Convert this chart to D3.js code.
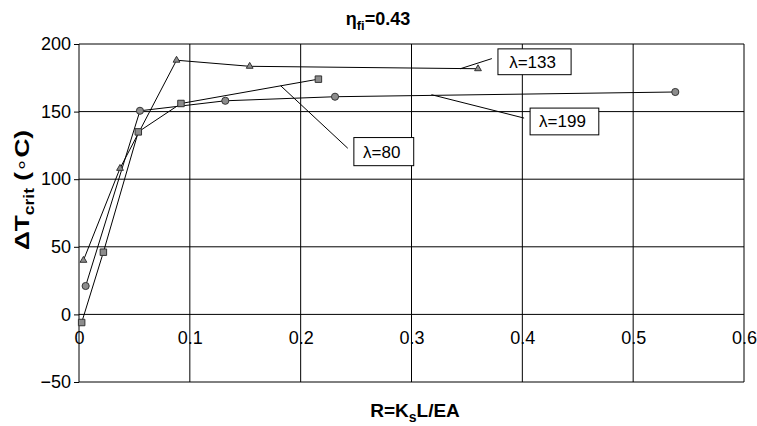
<!DOCTYPE html>
<html>
<head>
<meta charset="utf-8">
<script src="https://d3js.org/d3.v7.min.js"></script>
<style>
  body { margin: 0; background: #fff; }
  svg { font-family: "Liberation Sans", Arial, sans-serif; }
  .grid line { stroke: #000; stroke-width: 1; }
  .axis text { font-size: 18px; fill: #000; }
  .axis path, .axis line { stroke: #000; }
  .series { fill: none; stroke: #000; stroke-width: 1; }
  .mark { fill: #8c8c8c; stroke: #333; stroke-width: 1; }
  .callout rect { fill: #fff; stroke: #000; stroke-width: 1; }
  .callout line { stroke: #000; stroke-width: 1; }
  .callout text { font-size: 17px; }
</style>
</head>
<body>
<div id="chart"></div>
<script>
// values
var xTicks = [0, 0.1, 0.2, 0.3, 0.4, 0.5, 0.6];
var yTicks = [-50, 0, 50, 100, 150, 200];

// lambda = 133 (triangles)
var r133 = [0.004, 0.037, 0.088, 0.154, 0.360];
var t133 = [40, 108, 188, 183.5, 181.7];
// lambda = 199 (circles)
var r199 = [0.006, 0.055, 0.132, 0.231, 0.538];
var t199 = [21, 150.6, 158, 161, 164.5];
// lambda = 80 (squares)
var r80 = [0.0024, 0.022, 0.0535, 0.092, 0.216];
var t80 = [-6, 46, 135, 156, 174];

// callout labels: text, box corners and leader line ends in data units
var calloutText = ["\u03bb=133", "\u03bb=199", "\u03bb=80"];
var calloutBox = [[0.378, 196.4, 0.444, 177.3], [0.407, 152.6, 0.469, 132.8], [0.248, 130.8, 0.302, 110.0]];
var calloutLead = [[0.344, 181.7, 0.3725, 189.2], [0.318, 162.5, 0.4016, 145.2], [0.182, 169.1, 0.2425, 122.9]];

var W = 757, H = 426;
var m = {left: 79, right: 13, top: 44, bottom: 44};

var svg = d3.select("#chart").append("svg")
    .attr("width", W)
    .attr("height", H);

var x = d3.scaleLinear().domain([0, 0.6]).range([m.left, W - m.right]);
var y = d3.scaleLinear().domain([-50, 200]).range([H - m.bottom, m.top]);

// gridlines
var grid = svg.append("g").attr("class", "grid");
grid.selectAll("line.h").data(yTicks).enter().append("line")
    .attr("x1", x(0)).attr("x2", x(0.6))
    .attr("y1", function(d){ return y(d); }).attr("y2", function(d){ return y(d); });
grid.selectAll("line.v").data(xTicks).enter().append("line")
    .attr("y1", y(-50)).attr("y2", y(200))
    .attr("x1", function(d){ return x(d); }).attr("x2", function(d){ return x(d); });

// y axis
svg.append("g").attr("class", "axis")
    .attr("transform", "translate(" + m.left + ",0)")
    .call(d3.axisLeft(y).tickValues(yTicks).tickSize(5).tickPadding(3).tickFormat(d3.format("d")))
    .call(function(g){ g.select(".domain").remove(); });

// x axis labels sit on the zero line
svg.append("g").attr("class", "axis")
    .attr("transform", "translate(0," + y(0) + ")")
    .call(d3.axisBottom(x).tickValues(xTicks).tickSize(0).tickPadding(17).tickFormat(function(d){ return d === 0 ? "0" : d3.format(".1f")(d); }))
    .call(function(g){ g.select(".domain").remove(); });

var line = d3.line().x(function(d){ return x(d[0]); }).y(function(d){ return y(d[1]); });

function pts(rs, ts) { return rs.map(function(r, i){ return [r, ts[i]]; }); }

var series = [
  {data: pts(r133, t133), sym: d3.symbolTriangle, size: 20},
  {data: pts(r199, t199), sym: d3.symbolCircle, size: 40},
  {data: pts(r80, t80), sym: d3.symbolSquare, size: 42}
];

series.forEach(function(s){
  svg.append("path").attr("class", "series").attr("d", line(s.data));
});
series.forEach(function(s){
  svg.selectAll(null).data(s.data).enter().append("path")
    .attr("class", "mark")
    .attr("transform", function(d){ return "translate(" + x(d[0]) + "," + y(d[1]) + ")"; })
    .attr("d", d3.symbol().type(s.sym).size(s.size));
});

// callouts
var co = svg.append("g").attr("class", "callout");
calloutText.forEach(function(t, i){
  var l = calloutLead[i], b = calloutBox[i];
  co.append("line")
    .attr("x1", x(l[0])).attr("y1", y(l[1]))
    .attr("x2", x(l[2])).attr("y2", y(l[3]));
  co.append("rect")
    .attr("x", x(b[0])).attr("y", y(b[1]))
    .attr("width", x(b[2]) - x(b[0])).attr("height", y(b[3]) - y(b[1]));
  co.append("text")
    .attr("x", (x(b[0]) + x(b[2])) / 2 - 2).attr("y", (y(b[1]) + y(b[3])) / 2 + 6)
    .attr("text-anchor", "middle")
    .text(t);
});

// title
var title = svg.append("text")
    .attr("x", 378).attr("y", 25)
    .attr("text-anchor", "middle")
    .style("font-size", "18px").style("font-weight", "bold");
title.append("tspan").text("\u03b7");
title.append("tspan").attr("dy", 5).style("font-size", "13px").text("fi");
title.append("tspan").attr("dy", -5).text("=0.43");

// y label, stretched along its length like the original
var yl = svg.append("text")
    .attr("transform", "translate(29,190) rotate(-90) scale(1.25,1)")
    .attr("text-anchor", "middle")
    .style("font-size", "21px").style("font-weight", "bold");
yl.append("tspan").text("\u0394T");
yl.append("tspan").attr("dy", 5).style("font-size", "14px").text("crit");
yl.append("tspan").attr("dy", -5).text(" (");
yl.append("tspan").style("font-weight", "normal").attr("dy", -2).style("font-size", "18px").text("\u2218");
yl.append("tspan").attr("dy", 2).text("C)");

// x label
var xl = svg.append("text")
    .attr("x", 415).attr("y", 417)
    .attr("text-anchor", "middle")
    .style("font-size", "19px").style("font-weight", "bold");
xl.append("tspan").text("R=K");
xl.append("tspan").attr("dy", 5).style("font-size", "14px").text("s");
xl.append("tspan").attr("dy", -5).text("L/EA");
</script>
</body>
</html>
